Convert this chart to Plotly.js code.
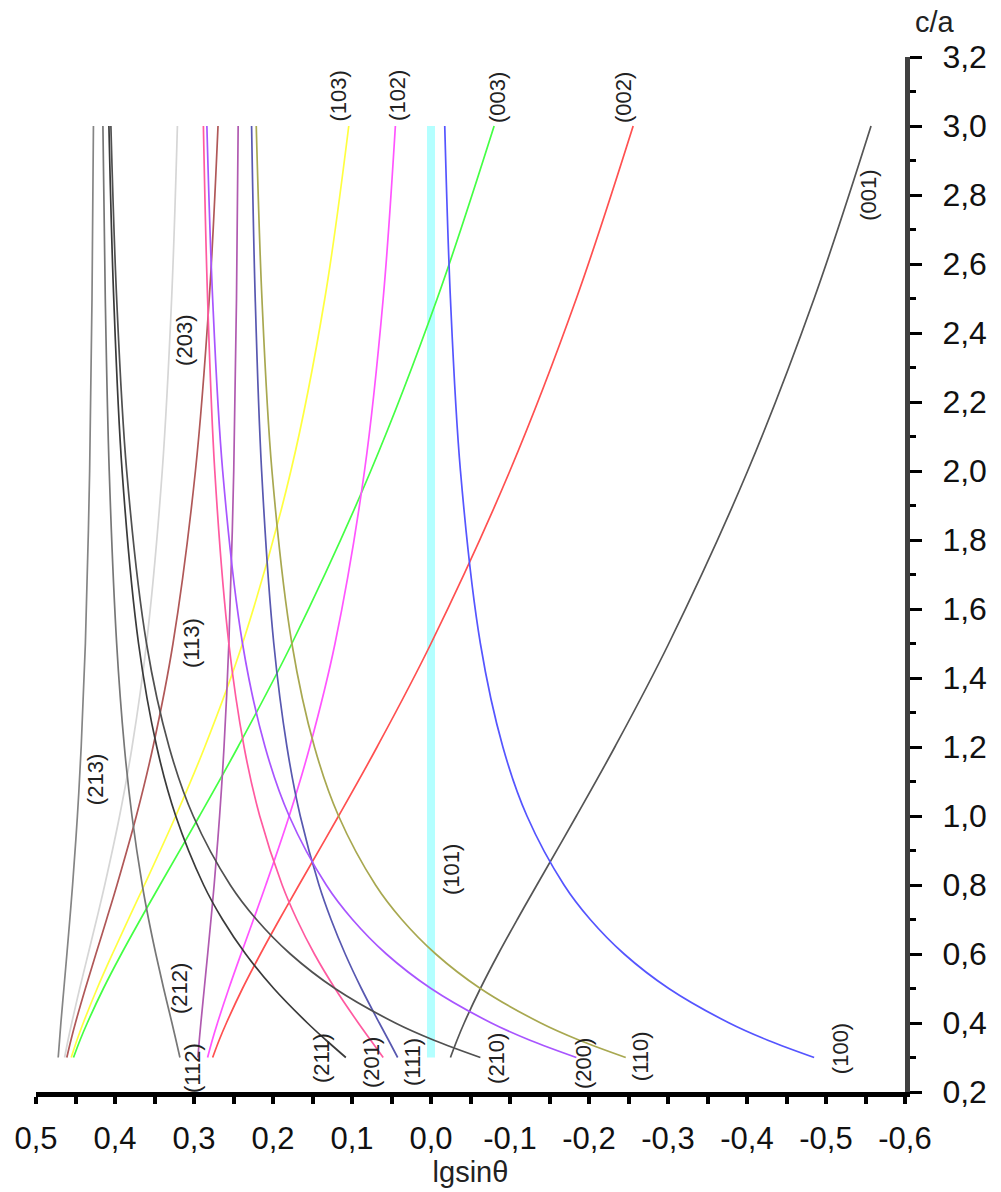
<!DOCTYPE html>
<html>
<head>
<meta charset="utf-8">
<script src="https://cdn.plot.ly/plotly-3.0.1.min.js"></script>
<style>html,body{margin:0;padding:0;background:#fff;}#chart{width:1001px;height:1192px;}</style>
</head>
<body>
<div id="chart"></div>
<script>
// c/a values (vertical axis)
const caRatio = [0.3, 0.35, 0.4, 0.5, 0.6, 0.7, 0.8, 1.0, 1.2, 1.5, 2.0, 2.5, 3.0];

// lg sin(theta) series, one per reflection
const s001 = [-0.0246, -0.0329, -0.0420, -0.0625, -0.0851, -0.1092, -0.1340, -0.1840, -0.2327, -0.3010, -0.4008, -0.4850, -0.5570];
const s002 = [0.2764, 0.2682, 0.2590, 0.2386, 0.2159, 0.1919, 0.1671, 0.1170, 0.0683, 0.0000, -0.0998, -0.1840, -0.2559];
const s003 = [0.4525, 0.4443, 0.4351, 0.4147, 0.3920, 0.3679, 0.3431, 0.2931, 0.2444, 0.1761, 0.0763, -0.0079, -0.0799];
const s100 = [-0.4850, -0.4263, -0.3775, -0.3010, -0.2445, -0.2016, -0.1684, -0.1215, -0.0910, -0.0625, -0.0373, -0.0246, -0.0174];
const s101 = [0, 0, 0, 0, 0, 0, 0, 0, 0, 0, 0, 0, 0];
const s102 = [0.2828, 0.2769, 0.2703, 0.2559, 0.2405, 0.2247, 0.2091, 0.1795, 0.1535, 0.1215, 0.0842, 0.0605, 0.0451];
const s103 = [0.4554, 0.4482, 0.4402, 0.4226, 0.4033, 0.3832, 0.3628, 0.3231, 0.2864, 0.2386, 0.1774, 0.1344, 0.1041];
const s110 = [-0.2465, -0.1878, -0.1389, -0.0625, -0.0060, 0.0370, 0.0702, 0.1170, 0.1475, 0.1761, 0.2013, 0.2140, 0.2212];
const s111 = [0.0422, 0.0537, 0.0654, 0.0881, 0.1086, 0.1265, 0.1418, 0.1655, 0.1823, 0.1990, 0.2144, 0.2225, 0.2271];
const s112 = [0.2951, 0.2933, 0.2913, 0.2870, 0.2827, 0.2785, 0.2745, 0.2676, 0.2620, 0.2559, 0.2497, 0.2462, 0.2441];
const s113 = [0.4610, 0.4558, 0.4501, 0.4375, 0.4242, 0.4107, 0.3975, 0.3730, 0.3519, 0.3266, 0.2982, 0.2807, 0.2696];
const s200 = [-0.1840, -0.1253, -0.0764, 0.0000, 0.0565, 0.0994, 0.1326, 0.1795, 0.2100, 0.2386, 0.2637, 0.2764, 0.2837];
const s201 = [0.0605, 0.0763, 0.0920, 0.1215, 0.1476, 0.1698, 0.1884, 0.2168, 0.2366, 0.2559, 0.2737, 0.2828, 0.2881];
const s203 = [0.4638, 0.4595, 0.4548, 0.4447, 0.4340, 0.4233, 0.4130, 0.3942, 0.3784, 0.3601, 0.3402, 0.3283, 0.3210];
const s210 = [-0.0625, -0.0038, 0.0451, 0.1215, 0.1780, 0.2209, 0.2541, 0.3010, 0.3315, 0.3601, 0.3852, 0.3979, 0.4052];
const s211 = [0.1078, 0.1327, 0.1564, 0.1990, 0.2346, 0.2639, 0.2878, 0.3231, 0.3471, 0.3702, 0.3910, 0.4016, 0.4077];
const s212 = [0.3178, 0.3228, 0.3279, 0.3384, 0.3483, 0.3574, 0.3655, 0.3785, 0.3881, 0.3979, 0.4073, 0.4123, 0.4153];
const s213 = [0.4719, 0.4702, 0.4685, 0.4647, 0.4609, 0.4572, 0.4537, 0.4476, 0.4428, 0.4375, 0.4321, 0.4291, 0.4273];

// series names and label positions (label x = lg sin, label y = c/a)
const seriesNames = ['(101)', '(001)', '(002)', '(003)', '(100)', '(102)', '(103)', '(110)', '(111)', '(112)', '(113)', '(200)', '(201)', '(203)', '(210)', '(211)', '(212)', '(213)'];
const seriesValues = [s101, s001, s002, s003, s100, s102, s103, s110, s111, s112, s113, s200, s201, s203, s210, s211, s212, s213];
const labelX = [-0.0253, -0.553, -0.243, -0.0835, -0.5177, 0.0418, 0.1165, -0.2646, 0.0228, 0.3013, 0.3038, -0.1937, 0.0747, 0.3114, -0.0835, 0.138, 0.3177, 0.4253];
const labelY = [0.846, 2.80, 3.084, 3.084, 0.327, 3.09, 3.088, 0.304, 0.287, 0.2696, 1.5014, 0.2812, 0.287, 2.38, 0.2986, 0.2986, 0.4986, 1.104];

// tick labels
const xTickVals = [0.5, 0.4, 0.3, 0.2, 0.1, 0.0, -0.1, -0.2, -0.3, -0.4, -0.5, -0.6];
const xTickText = ['0,5', '0,4', '0,3', '0,2', '0,1', '0,0', '-0,1', '-0,2', '-0,3', '-0,4', '-0,5', '-0,6'];
const yTickVals = [0.2, 0.4, 0.6, 0.8, 1.0, 1.2, 1.4, 1.6, 1.8, 2.0, 2.2, 2.4, 2.6, 2.8, 3.0, 3.2];
const yTickText = ['0,2', '0,4', '0,6', '0,8', '1,0', '1,2', '1,4', '1,6', '1,8', '2,0', '2,2', '2,4', '2,6', '2,8', '3,0', '3,2'];

const styles = {
  '(101)': {color: '#b4ffff', width: 8},
  '(001)': {color: '#555555', width: 1.7},
  '(002)': {color: '#ff5050', width: 1.7},
  '(003)': {color: '#44ff44', width: 1.7},
  '(100)': {color: '#5555ff', width: 1.7},
  '(102)': {color: '#ff55ff', width: 1.7},
  '(103)': {color: '#ffff40', width: 1.7},
  '(110)': {color: '#a8a850', width: 1.7},
  '(111)': {color: '#5858b0', width: 1.7},
  '(112)': {color: '#b05ab0', width: 1.7},
  '(113)': {color: '#b05858', width: 1.7},
  '(200)': {color: '#a855ff', width: 1.7},
  '(201)': {color: '#ff5aa0', width: 1.7},
  '(203)': {color: '#d6d6d6', width: 1.7},
  '(210)': {color: '#505050', width: 1.7},
  '(211)': {color: '#3a3a3a', width: 1.7},
  '(212)': {color: '#777777', width: 1.7},
  '(213)': {color: '#858585', width: 1.7}
};

const traces = seriesNames.map((name, i) => ({
  type: 'scatter',
  mode: 'lines',
  name: name,
  x: seriesValues[i],
  y: caRatio,
  line: {color: styles[name].color, width: styles[name].width, shape: 'spline', smoothing: 1},
  hoverinfo: 'name+x+y'
}));

const FONT = 'Liberation Sans, Arial, sans-serif';

const annotations = seriesNames.map((name, i) => ({
  x: labelX[i], y: labelY[i], xref: 'x', yref: 'y',
  text: name, showarrow: false, textangle: -90,
  font: {family: FONT, size: 22, color: '#222'}
}));
annotations.push({
  x: 1.0345, y: 1.0338, xref: 'paper', yref: 'paper',
  xanchor: 'center', yanchor: 'middle',
  text: 'c/a', showarrow: false,
  font: {family: FONT, size: 29, color: '#222'}
});

const layout = {
  width: 1001, height: 1192,
  margin: {l: 36, r: 96, t: 57, b: 100},
  paper_bgcolor: '#fff', plot_bgcolor: '#fff',
  showlegend: false,
  xaxis: {
    range: [0.5, -0.6],
    showgrid: false, zeroline: false,
    showline: true, linecolor: '#000', linewidth: 5,
    tickmode: 'array', tickvals: xTickVals, ticktext: xTickText,
    ticks: 'outside', ticklen: 7, tickwidth: 4, tickcolor: '#000',
    minor: {dtick: 0.05, tick0: 0, ticks: 'outside', ticklen: 7, tickwidth: 4, tickcolor: '#000', showgrid: false},
    tickfont: {family: FONT, size: 31, color: '#111'},
    ticklabelstandoff: 8,
    title: {text: 'lgsinθ', font: {family: FONT, size: 29, color: '#222'}, standoff: 2}
  },
  yaxis: {
    range: [0.2, 3.2],
    side: 'right',
    showgrid: false, zeroline: false,
    showline: true, linecolor: '#404040', linewidth: 5,
    tickmode: 'array', tickvals: yTickVals, ticktext: yTickText,
    ticks: 'outside', ticklen: 12, tickwidth: 3, tickcolor: '#000',
    minor: {dtick: 0.1, tick0: 0, ticks: 'outside', ticklen: 6, tickwidth: 3, tickcolor: '#000', showgrid: false},
    tickfont: {family: FONT, size: 32, color: '#111'},
    ticklabelstandoff: 14
  },
  annotations: annotations
};

Plotly.newPlot('chart', traces, layout, {displayModeBar: false, staticPlot: true});
</script>
</body>
</html>
